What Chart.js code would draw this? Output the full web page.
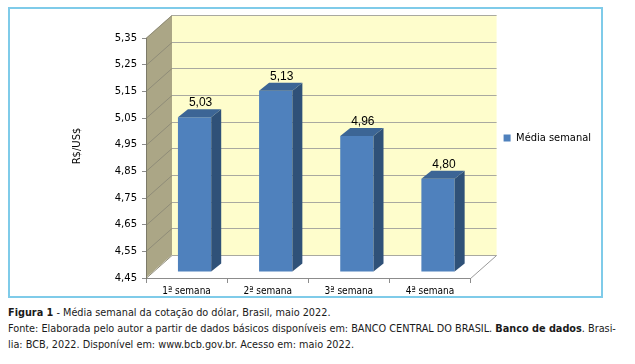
<!DOCTYPE html>
<html>
<head>
<meta charset="utf-8">
<script src="https://cdn.jsdelivr.net/npm/chart.js@4.4.1/dist/chart.umd.min.js"></script>
<style>
  html, body { margin: 0; padding: 0; background: #ffffff; }
  #wrap { position: relative; width: 635px; height: 364px; overflow: hidden; }
  #chart { position: absolute; left: 0; top: 0; }
  #frame { position: absolute; left: 8px; top: 7px; width: 595px; height: 291px; box-sizing: border-box;
           border: 2px solid #7fcbe9; pointer-events: none; }
  #caption { position: absolute; left: 8px; top: 305px; width: 620px;
             font-family: "DejaVu Sans Condensed", "DejaVu Sans", sans-serif; font-size: 10.8px; color: #1a1a1a; }
  #caption div { height: 16px; line-height: 16px; white-space: nowrap; }
  #caption .j { text-align: justify; text-align-last: justify; width: 604px; }
</style>
</head>
<body>
<div id="wrap">
  <canvas id="chart" width="635" height="300"></canvas>
  <div id="frame"></div>
  <div id="caption">
    <div><b>Figura 1</b> - Média semanal da cotação do dólar, Brasil, maio 2022.</div>
    <div class="j">Fonte: Elaborada pelo autor a partir de dados básicos disponíveis em: BANCO CENTRAL DO BRASIL. <b>Banco de dados</b>. Brasi-</div>
    <div>lia: BCB, 2022. Disponível em: www.bcb.gov.br. Acesso em: maio 2022.</div>
  </div>
</div>
<script>
// ---- data ----
const categories = ['1ª semana', '2ª semana', '3ª semana', '4ª semana'];
const seriesName = 'Média semanal';
const weeklyMean = [5.03, 5.13, 4.96, 4.80];
const yTickValues = [4.45, 4.55, 4.65, 4.75, 4.85, 4.95, 5.05, 5.15, 5.25, 5.35];
const yAxisTitle = 'R$/US$';

// ---- 3D look (styling only) ----
const WALL_DX = 26, WALL_DY = 23;
const BAR_SHIFT_X = 8, BAR_SHIFT_Y = 6;
const BAR_DX = 10, BAR_DY = 8;
const fmt = v => v.toFixed(2).replace('.', ',');
const LEGEND_FONT = { family: '"DejaVu Sans Condensed", "DejaVu Sans", sans-serif', size: 11 };
const LEGEND_PAD = 33, LEGEND_BOX = 7;

function poly(ctx, pts, fill, stroke) {
  ctx.beginPath();
  ctx.moveTo(pts[0][0], pts[0][1]);
  for (let i = 1; i < pts.length; i++) ctx.lineTo(pts[i][0], pts[i][1]);
  ctx.closePath();
  if (fill) { ctx.fillStyle = fill; ctx.fill(); }
  if (stroke) { ctx.strokeStyle = stroke; ctx.lineWidth = 1; ctx.stroke(); }
}

const threeD = {
  id: 'threeD',
  afterLayout(chart) {
    const lg = chart.legend;
    if (lg) { lg.bottom -= 40; lg.height -= 40; }
  },
  beforeDraw(chart) {
    const {ctx, chartArea: a, scales: {y}} = chart;
    ctx.save();
    ctx.fillStyle = '#fefdcc';
    ctx.fillRect(a.left + WALL_DX, a.top - WALL_DY, a.right - a.left, a.bottom - a.top);
    poly(ctx, [[a.left, a.top], [a.left + WALL_DX, a.top - WALL_DY], [a.left + WALL_DX, a.bottom - WALL_DY], [a.left, a.bottom]], '#aba686');
    poly(ctx, [[a.left, a.bottom], [a.left + WALL_DX, a.bottom - WALL_DY], [a.right + WALL_DX, a.bottom - WALL_DY], [a.right, a.bottom]], '#ffffff');
    ctx.lineWidth = 1;
    y.ticks.forEach(t => {
      const py = Math.round(y.getPixelForValue(t.value)) + 0.5;
      ctx.strokeStyle = '#8f8c78';
      ctx.beginPath();
      ctx.moveTo(a.left, py);
      ctx.lineTo(a.left + WALL_DX, py - WALL_DY);
      ctx.stroke();
      ctx.strokeStyle = '#a9a9a0';
      ctx.beginPath();
      ctx.moveTo(a.left + WALL_DX, py - WALL_DY);
      ctx.lineTo(a.right + WALL_DX, py - WALL_DY);
      ctx.stroke();
    });
    ctx.strokeStyle = '#999999';
    ctx.beginPath();
    ctx.moveTo(a.right, a.bottom + 0.5);
    ctx.lineTo(a.right + WALL_DX, a.bottom - WALL_DY + 0.5);
    ctx.stroke();
    ctx.restore();
  },
  beforeDatasetsDraw(chart) {
    chart.ctx.save();
    chart.ctx.translate(BAR_SHIFT_X, -BAR_SHIFT_Y);
  },
  afterDatasetsDraw(chart) {
    const ctx = chart.ctx;
    const meta = chart.getDatasetMeta(0);
    meta.data.forEach((bar, i) => {
      const {x, y, base, width} = bar.getProps(['x', 'y', 'base', 'width'], true);
      const l = x - width / 2, r = x + width / 2;
      poly(ctx, [[r, y], [r + BAR_DX, y - BAR_DY], [r + BAR_DX, base - BAR_DY], [r, base]], '#2f5178');
      poly(ctx, [[l, y], [l + BAR_DX, y - BAR_DY], [r + BAR_DX, y - BAR_DY], [r, y]], '#3c6595');
      ctx.fillStyle = '#000000';
      ctx.font = '12px "Liberation Sans", Arial, sans-serif';
      ctx.textAlign = 'center';
      ctx.textBaseline = 'alphabetic';
      ctx.fillText(fmt(weeklyMean[i]), x + BAR_DX / 2 + 1, y - BAR_DY - 3);
    });
    ctx.restore();
  },
  afterDraw(chart) {
    const ctx = chart.ctx;
    ctx.save();
    ctx.translate(77, 146);
    ctx.rotate(-Math.PI / 2);
    ctx.fillStyle = '#000000';
    ctx.font = '10px "DejaVu Sans", sans-serif';
    ctx.textAlign = 'center';
    ctx.textBaseline = 'middle';
    ctx.fillText(yAxisTitle, 0, 0);
    ctx.restore();
  }
};

// legend width so the plot area ends where the reference's does
const mctx = document.createElement('canvas').getContext('2d');
mctx.font = LEGEND_FONT.size + 'px ' + LEGEND_FONT.family;
const legendW = Math.ceil(LEGEND_PAD + LEGEND_BOX + LEGEND_FONT.size / 2 + mctx.measureText(seriesName).width + 10);
const PLOT_RIGHT = 470;

new Chart(document.getElementById('chart'), {
  type: 'bar',
  data: {
    labels: categories,
    datasets: [{
      label: seriesName,
      data: weeklyMean,
      base: yTickValues[0],
      backgroundColor: '#4f81bd',
      borderWidth: 0,
      barPercentage: 0.41,
      categoryPercentage: 1,
      clip: false
    }]
  },
  options: {
    responsive: false,
    animation: false,
    devicePixelRatio: 1,
    layout: { padding: { left: 0, top: 38, right: 635 - PLOT_RIGHT - legendW, bottom: 0 } },
    plugins: {
      legend: {
        position: 'right',
        fullSize: false,
        labels: {
          boxWidth: LEGEND_BOX, boxHeight: LEGEND_BOX, padding: LEGEND_PAD,
          color: '#000000',
          font: LEGEND_FONT
        }
      },
      tooltip: { enabled: false }
    },
    scales: {
      x: {
        type: 'category',
        grid: { offset: true, drawOnChartArea: false, drawTicks: true, tickLength: 5, color: '#8c8c8c' },
        border: { display: true, color: '#8c8c8c' },
        ticks: { color: '#000000', padding: 2, maxRotation: 0,
                 font: { family: '"DejaVu Sans Condensed", "DejaVu Sans", sans-serif', size: 10 } },
        afterFit: s => { s.height = 22; }
      },
      y: {
        min: yTickValues[0],
        max: yTickValues[yTickValues.length - 1],
        afterBuildTicks: s => { s.ticks = yTickValues.map(v => ({ value: v })); },
        grid: { drawOnChartArea: false, drawTicks: true, tickLength: 4, color: '#8c8c8c' },
        border: { display: true, color: '#7c7a68' },
        ticks: { color: '#000000', padding: 5, callback: v => fmt(v),
                 font: { family: '"DejaVu Sans", sans-serif', size: 10 } },
        afterFit: s => { s.width = 146; }
      }
    }
  },
  plugins: [threeD]
});
</script>
</body>
</html>
